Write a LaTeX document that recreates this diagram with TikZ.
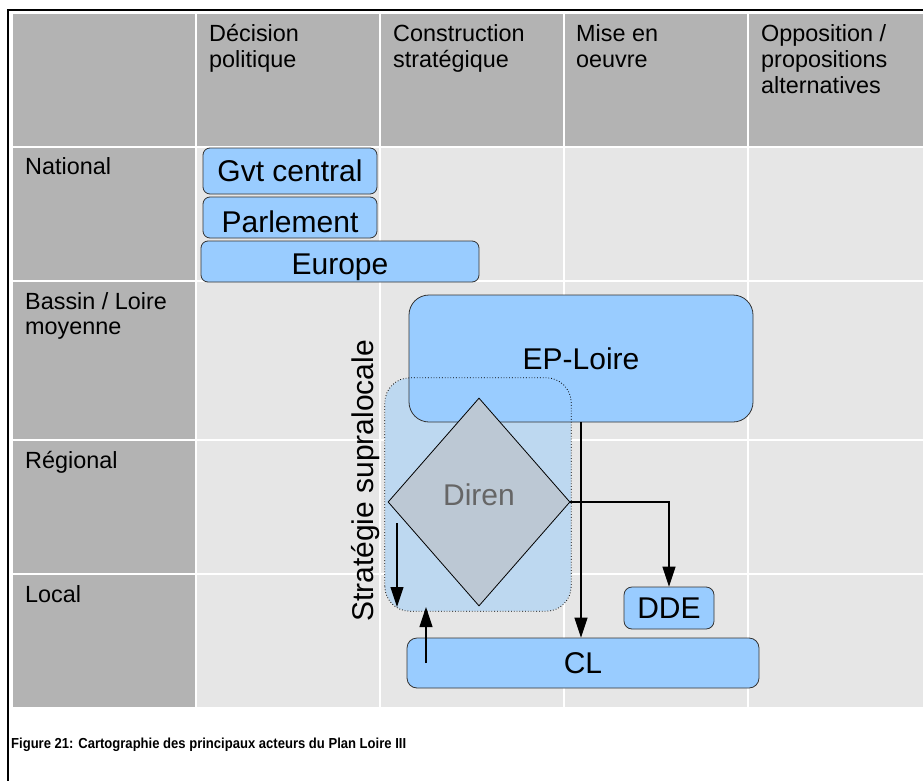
\documentclass[tikz,border=0pt]{standalone}
\usepackage{fontspec}
\setmainfont{Liberation Sans}
\usetikzlibrary{shapes.geometric,arrows.meta}

\definecolor{headgray}{HTML}{B3B3B3}
\definecolor{cellgray}{HTML}{E6E6E6}
\definecolor{actorblue}{HTML}{99CCFF}
\definecolor{suprablue}{HTML}{BDD8F0}
\definecolor{direngray}{HTML}{BCC8D4}
\definecolor{direntext}{HTML}{666666}

\begin{document}
\begin{tikzpicture}[x=1pt,y=-1pt]
                \tikzstyle{every node}+=[inner sep=0pt]
                \tikzstyle{actor}=[draw=black!80, fill=actorblue, line width=0.8pt, rounded corners=7pt, text height=21.6pt, text depth=0pt, font=\fontsize{30}{32}\selectfont]
                \tikzstyle{headtext}=[anchor=base west, align=left, font=\fontsize{23.4}{25.7}\selectfont]
                \tikzstyle{arr}=[-{Triangle[length=20pt,width=13pt]}, line width=1.1pt]
                \useasboundingbox (0,0) rectangle (923,781);
                \fill [white] (0,0) rectangle (923,781);
                \draw [black, line width=1.5pt] (8,781) -- (8,10) -- (923,10);
                \fill [cellgray] (13,14) rectangle (923,707);
                \fill [headgray] (13,14) rectangle (923,147);
                \fill [headgray] (13,14) rectangle (196,707);
                \foreach \gx in {196,380,564,748}
                  \draw [white, line width=2pt] (\gx,14) -- (\gx,707);
                \foreach \gy in {147,281,440,574}
                  \draw [white, line width=2pt] (13,\gy) -- (923,\gy);
                \node [headtext] (hdecision) at (209,67.7) {Décision\\politique};
                \node [headtext] (hconstruction) at (393,67.7) {Construction\\stratégique};
                \node [headtext] (hmise) at (576,67.7) {Mise en\\oeuvre};
                \node [headtext] (hopposition) at (761,93.4) {Opposition /\\propositions\\alternatives};
                \node [headtext] (rnational) at (25,174) {National};
                \node [headtext] (rbassin) at (25,334.7) {Bassin / Loire\\moyenne};
                \node [headtext] (rregional) at (25,468) {Régional};
                \node [headtext] (rlocal) at (25,602) {Local};
                \node [actor, minimum width=174pt, minimum height=46pt] (gvt) at (290,171) {Gvt central};
                \node [actor, text height=30.6pt, minimum width=174pt, minimum height=41pt] (parlement) at (290,217.5) {Parlement};
                \node [actor, text height=26.6pt, minimum width=278pt, minimum height=41pt] (europe) at (340,261.5) {Europe};
                \node [fill=suprablue, rounded corners=25pt, minimum width=186pt, minimum height=233pt] (supra) at (478,494.5) {};
                \node [actor, rounded corners=20pt, minimum width=344pt, minimum height=127pt] (eploire) at (581,358.5) {EP-Loire};
                \node [diamond, draw=black, fill=direngray, line width=0.8pt, minimum width=182pt, minimum height=208pt, text=direntext, text height=21.6pt, text depth=14pt, font=\fontsize{30}{32}\selectfont] (diren) at (479,502) {Diren};
                \draw [black, dotted, line width=0.8pt, rounded corners=25pt] (supra.south west) rectangle (supra.north east);
                \node [rotate=90, font=\fontsize{30}{32}\selectfont] (supralabel) at (366,481) {Stratégie supralocale};
                \node [actor, rounded corners=8pt, minimum width=90pt, minimum height=42pt] (dde) at (669,608) {DDE};
                \node [actor, rounded corners=10pt, minimum width=352pt, minimum height=50pt] (cl) at (583,663) {CL};
                \draw [arr] (eploire.south) -- (eploire.south |- cl.north);
                \draw [arr] (diren.east) -| (dde.north);
                \coordinate (down0) at (397,523);
                \coordinate (down1) at (397,607);
                \draw [arr] (down0) -- (down1);
                \coordinate (up0) at (426,663);
                \coordinate (up1) at (426,607);
                \draw [arr] (up0) -- (up1);
                \node [anchor=base west, xscale=0.9, font=\bfseries\fontsize{14.5}{16}\selectfont] (caption) at (11,748) {Figure 21: Cartographie des principaux acteurs du Plan Loire III};
              \end{tikzpicture}
\end{document}
